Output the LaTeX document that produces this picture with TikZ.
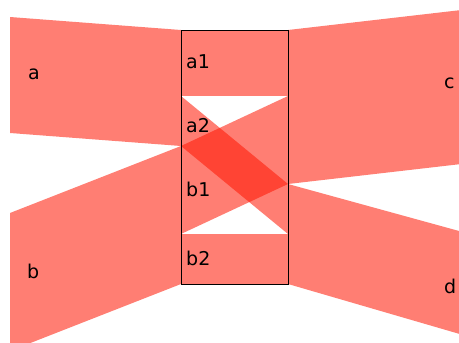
\documentclass[tikz,border=0pt]{standalone}
\usepackage{fontspec}
\setsansfont{DejaVu Sans}
\usetikzlibrary{positioning}
\definecolor{flowred}{RGB}{255,20,0}
\tikzset{
  band/.style  = {fill=flowred, fill opacity=0.55, draw=none},
  frame/.style = {draw=black, line width=1pt},
  lbl/.style   = {font=\sffamily\fontsize{19}{22}\selectfont, inner sep=0pt, anchor=base west},
}
\begin{document}
\begin{tikzpicture}[x=1pt, y=-1pt]
  \useasboundingbox (0,0) rectangle (459,343);
  \clip (0,0) rectangle (459,343);
  % split box corners and cut points
  \coordinate (tl) at (181,30);
  \coordinate (tr) at (288,30);
  \coordinate (bl) at (181,284);
  \coordinate (br) at (288,284);
  % outer flows
  \fill[band] (10,17) -- (tl) -- (181,146) -- (10,133) -- cycle;
  \fill[band] (10,213) -- (181,146) -- (bl) -- (10,351) -- cycle;
  \fill[band] (tr) -- (470,9) -- (470,163) -- (288,184) -- cycle;
  \fill[band] (288,184) -- (470,234) -- (470,337) -- (br) -- cycle;
  % sub flows inside the box
  \fill[band] (tl) rectangle (288,96);
  \fill[band] (181,96) -- (288,184) -- (288,234) -- (181,146) -- cycle;
  \fill[band] (181,146) -- (288,96) -- (288,184) -- (181,234) -- cycle;
  \fill[band] (181,234) rectangle (br);
  \draw[frame] (tl) rectangle (br);
  % labels
  \node[lbl] (la)  at (28,79)   {a};
  \node[lbl] (lb)  at (27,278)  {b};
  \node[lbl] (lc)  at (444,88)  {c};
  \node[lbl] (ld)  at (444,293) {d};
  \node[lbl] (la1) at (186,68)  {a1};
  \node[lbl] (la2) at (186,132) {a2};
  \node[lbl] (lb1) at (186,196) {b1};
  \node[lbl] (lb2) at (186,265) {b2};
\end{tikzpicture}
\end{document}
